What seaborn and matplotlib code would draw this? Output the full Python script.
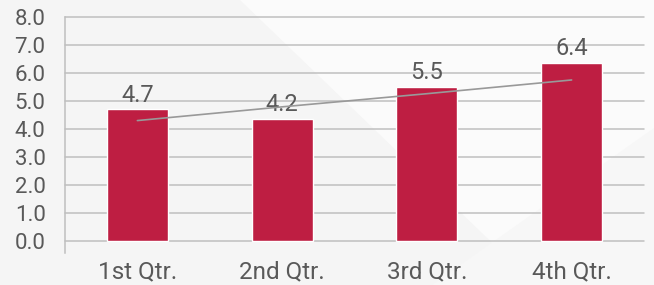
# grafico de barras por trimestre com linha de tendencia
import matplotlib
matplotlib.use("Agg")
import matplotlib.pyplot as plt
from matplotlib.patches import Polygon
import seaborn as sns
import pandas as pd

# dados
trimestres = ["1st Qtr.", "2nd Qtr.", "3rd Qtr.", "4th Qtr."]
valores = [4.7, 4.35, 5.5, 6.35]
rotulos = ["4.7", "4.2", "5.5", "6.4"]
tendencia = [4.3, 4.79, 5.26, 5.75]
ticks_y = [0, 1, 2, 3, 4, 5, 6, 7, 8]

df = pd.DataFrame({"trimestre": trimestres, "valor": valores})

sns.set_style("white")
plt.rcParams["font.family"] = ["Roboto", "DejaVu Sans"]

cinza_txt = "#595959"
cinza_grade = "#bfbfbf"

fig = plt.figure(figsize=(6.54, 2.85), dpi=100)
fig.patch.set_facecolor("#f5f5f5")

# fundo com formas diagonais suaves (eixo separado, atras de tudo)
fundo = fig.add_axes([0, 0, 1, 1], zorder=-1)
fundo.set_xlim(0, 1)
fundo.set_ylim(0, 1)
fundo.axis("off")
fundo.add_patch(Polygon([[0.367, 1.0], [1.0, 1.0], [1.0, 0.0], [0.82, 0.0]],
                        closed=True, facecolor="#fbfbfb", edgecolor="none"))
fundo.add_patch(Polygon([[0.66, 0.0], [1.0, 0.0], [1.0, 0.55]],
                        closed=True, facecolor="#f7f7f7", edgecolor="none"))

ax = fig.add_axes([0.0994, 0.1123, 0.8853, 0.8281])
ax.set_facecolor("none")

sns.barplot(data=df, x="trimestre", y="valor", color="#be1e42",
            width=0.42, saturation=1, ax=ax, zorder=3)

# linhas de grade
for v in ticks_y:
    ax.axhline(v, color=cinza_grade, lw=1.1, zorder=1, clip_on=False)

# linha de tendencia
ax.plot(range(len(trimestres)), tendencia, color="#999999", lw=1.2, zorder=4)

ax.bar_label(ax.containers[0], labels=rotulos, padding=2,
             fontsize=17, color=cinza_txt)

ax.set_ylim(-0.43, 8)
ax.set_xlim(-0.5, 3.5)
ax.set_yticks(ticks_y)
ax.set_yticklabels([f"{v:.1f}" for v in ticks_y])
ax.tick_params(axis="y", length=0, pad=14, labelsize=16, labelcolor=cinza_txt)
ax.tick_params(axis="x", length=0, pad=5, labelsize=17.5, labelcolor=cinza_txt)
ax.set_xlabel("")
ax.set_ylabel("")

for lado in ["top", "right", "bottom"]:
    ax.spines[lado].set_visible(False)
ax.spines["left"].set_color(cinza_grade)
ax.spines["left"].set_linewidth(1.1)

fig.savefig("out.png", dpi=100)
